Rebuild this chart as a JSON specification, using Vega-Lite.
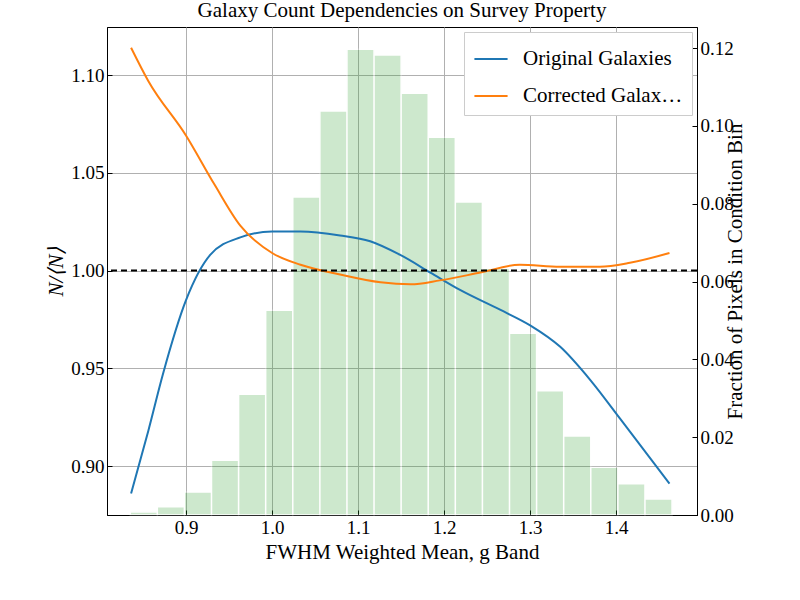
{
"$schema":"https://vega.github.io/schema/vega-lite/v6.json",
"width":590,"height":488,
"autosize":{"type":"none"},
"padding":{"left":107,"top":27,"right":103,"bottom":85},
"config":{"font":"Liberation Serif","view":{"stroke":"black"},
"axis":{"labelFont":"Liberation Serif","titleFont":"Liberation Serif","labelFontSize":19,"titleFontSize":21,"titleFontWeight":"normal","labelColor":"black","titleColor":"black","domainColor":"black","tickColor":"black","tickSize":-5,"labelPadding":8,"gridColor":"#b0b0b0"},
"title":{"font":"Liberation Serif","fontSize":21,"fontWeight":"normal","offset":6}},
"title":"Galaxy Count Dependencies on Survey Property",
"layer":[
{"data":{"values":[
{"a":0.835,"b":0.8665,"f":0.0008},{"a":0.8665,"b":0.898,"f":0.0021},{"a":0.898,"b":0.9295,"f":0.0059},{"a":0.9295,"b":0.961,"f":0.0141},{"a":0.961,"b":0.9925,"f":0.031},{"a":0.9925,"b":1.024,"f":0.0526},{"a":1.024,"b":1.0555,"f":0.0817},{"a":1.0555,"b":1.087,"f":0.1038},{"a":1.087,"b":1.1185,"f":0.1197},{"a":1.1185,"b":1.15,"f":0.1182},{"a":1.15,"b":1.1815,"f":0.1084},{"a":1.1815,"b":1.213,"f":0.0971},{"a":1.213,"b":1.2445,"f":0.0804},{"a":1.2445,"b":1.276,"f":0.0634},{"a":1.276,"b":1.3075,"f":0.0467},{"a":1.3075,"b":1.339,"f":0.0319},{"a":1.339,"b":1.3705,"f":0.0203},{"a":1.3705,"b":1.402,"f":0.0123},{"a":1.402,"b":1.4335,"f":0.008},{"a":1.4335,"b":1.465,"f":0.0041}]},
"mark":{"type":"rect","fill":"#2ca02c","opacity":0.23,"stroke":"white","strokeWidth":1.5},
"encoding":{
"x":{"field":"a","type":"quantitative","scale":{"domain":[0.808,1.494],"nice":false,"zero":false},"axis":{"values":[0.9,1.0,1.1,1.2,1.3,1.4],"format":".1f","title":"FWHM Weighted Mean, g Band","grid":true}},
"x2":{"field":"b"},
"y":{"field":"f","type":"quantitative","scale":{"domain":[0,0.1254],"nice":false},"axis":{"orient":"right","values":[0,0.02,0.04,0.06,0.08,0.1,0.12],"format":".2f","title":"Fraction of Pixels in Condition Bin","titleAngle":270,"titlePadding":12,"grid":false}},
"y2":{"datum":0}}},
{"layer":[
{"data":{"values":[
{"s":"Original Galaxies","x":0.836,"y":0.886},{"s":"Original Galaxies","x":0.856,"y":0.918},{"s":"Original Galaxies","x":0.873,"y":0.947},{"s":"Original Galaxies","x":0.9,"y":0.985},{"s":"Original Galaxies","x":0.928,"y":1.008},{"s":"Original Galaxies","x":0.963,"y":1.017},{"s":"Original Galaxies","x":1.0,"y":1.020},{"s":"Original Galaxies","x":1.033,"y":1.020},{"s":"Original Galaxies","x":1.079,"y":1.018},{"s":"Original Galaxies","x":1.114,"y":1.015},{"s":"Original Galaxies","x":1.149,"y":1.008},{"s":"Original Galaxies","x":1.184,"y":0.999},{"s":"Original Galaxies","x":1.219,"y":0.990},{"s":"Original Galaxies","x":1.265,"y":0.980},{"s":"Original Galaxies","x":1.3,"y":0.972},{"s":"Original Galaxies","x":1.335,"y":0.961},{"s":"Original Galaxies","x":1.37,"y":0.944},{"s":"Original Galaxies","x":1.405,"y":0.924},{"s":"Original Galaxies","x":1.462,"y":0.891},
{"s":"Corrected Galaxies","x":0.836,"y":1.114},{"s":"Corrected Galaxies","x":0.856,"y":1.097},{"s":"Corrected Galaxies","x":0.9,"y":1.069},{"s":"Corrected Galaxies","x":0.933,"y":1.044},{"s":"Corrected Galaxies","x":0.963,"y":1.023},{"s":"Corrected Galaxies","x":1.0,"y":1.009},{"s":"Corrected Galaxies","x":1.033,"y":1.003},{"s":"Corrected Galaxies","x":1.079,"y":0.998},{"s":"Corrected Galaxies","x":1.126,"y":0.994},{"s":"Corrected Galaxies","x":1.161,"y":0.993},{"s":"Corrected Galaxies","x":1.195,"y":0.995},{"s":"Corrected Galaxies","x":1.242,"y":0.999},{"s":"Corrected Galaxies","x":1.288,"y":1.003},{"s":"Corrected Galaxies","x":1.335,"y":1.002},{"s":"Corrected Galaxies","x":1.381,"y":1.002},{"s":"Corrected Galaxies","x":1.416,"y":1.004},{"s":"Corrected Galaxies","x":1.462,"y":1.009}]},
"mark":{"type":"line","interpolate":"monotone","strokeWidth":2},
"encoding":{
"x":{"field":"x","type":"quantitative","scale":{"domain":[0.808,1.494],"nice":false,"zero":false}},
"y":{"field":"y","type":"quantitative","scale":{"domain":[0.875,1.1246],"nice":false,"zero":false},"axis":{"values":[0.9,0.95,1.0,1.05,1.1],"format":".2f","title":"N/⟨N⟩","titleFontStyle":"italic","grid":true}},
"color":{"field":"s","type":"nominal","scale":{"domain":["Original Galaxies","Corrected Galaxies"],"range":["#1f77b4","#ff7f0e"]},"legend":{"title":null,"orient":"top-right","labelFont":"Liberation Serif","labelFontSize":21,"symbolType":"stroke","symbolSize":1100,"symbolStrokeWidth":2,"fillColor":"white","strokeColor":"#cccccc","padding":9,"rowPadding":9,"labelOffset":14,"labelColor":"black","offset":5}}}},
{"data":{"values":[{"v":1.0}]},"mark":{"type":"rule","strokeDash":[6,4],"color":"black","strokeWidth":2},"encoding":{"y":{"field":"v","type":"quantitative"}}}
]}
],
"resolve":{"scale":{"y":"independent"}}
}
